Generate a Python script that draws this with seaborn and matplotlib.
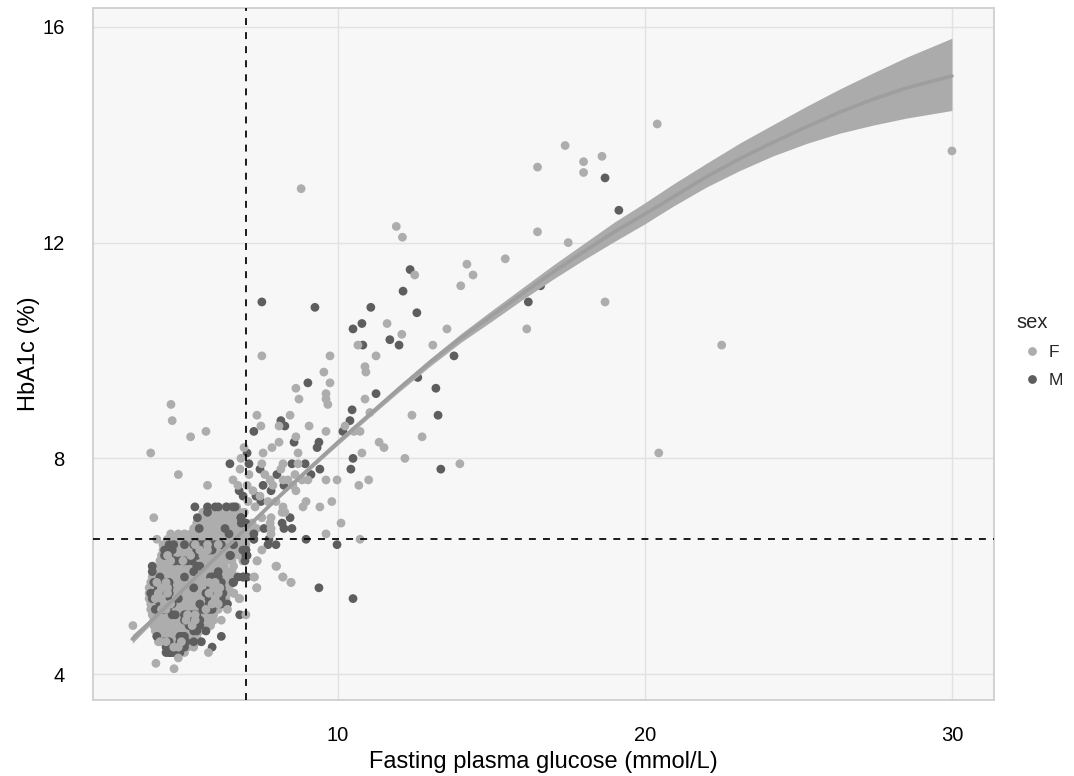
import matplotlib
matplotlib.use("Agg")
import matplotlib.pyplot as plt
import numpy as np
import pandas as pd
import seaborn as sns

# scattered points
far_f_x = [3.32, 4.07, 4.66, 4.56, 4.6, 3.9, 5.2, 5.7, 4.8, 4.0, 5.75, 8.8, 11.9, 12.1, 12.5, 14.2, 14.0, 14.4, 15.45, 16.5,
           17.5, 16.5, 17.4, 18.0, 18.0, 18.6, 20.4, 30.0, 18.7, 16.15, 22.5, 20.45, 11.6, 12.08, 13.55, 13.09, 10.65, 11.24, 9.74, 7.52,
           10.88, 10.91, 9.54, 9.74, 8.63, 9.61, 9.61, 9.67, 8.73, 10.88, 11.04, 8.44, 7.36, 7.49, 8.08, 9.06, 9.61, 10.23, 10.52, 10.72,
           12.41, 12.74, 11.34, 11.5, 12.18, 13.97, 8.63, 8.08, 7.85, 7.56, 8.7, 6.94, 6.84, 10.78, 7.52, 8.21, 8.7, 8.14, 7.62, 7.1,
           6.81, 8.6, 8.37, 8.21, 8.83, 9.02, 9.61, 9.97, 11.0, 10.68, 7.79, 7.88, 8.63, 8.53, 7.23, 7.04, 6.58, 6.74, 7.46, 7.72,
           7.98, 8.96, 8.86, 9.41, 9.8, 8.21, 8.18, 8.27, 7.52, 7.82, 7.79, 7.82, 7.82, 7.3, 7.07, 10.1, 9.61, 10.72, 7.52, 7.36,
           7.98, 8.21, 8.47, 7.26, 7.36, 6.61, 6.78, 4.2, 4.8, 5.78, 6.2, 6.4, 7.0, 6.8, 6.6, 7.28, 7.35, 8.2, 8.47, 8.0, 7.37]
far_f_y = [4.9, 4.2, 4.1, 9.0, 8.7, 8.1, 8.4, 8.5, 7.7, 6.9, 7.5, 13.0, 12.3, 12.1, 11.4, 11.6, 11.2, 11.4, 11.7, 12.2,
           12.0, 13.4, 13.8, 13.5, 13.3, 13.6, 14.2, 13.7, 10.9, 10.4, 10.1, 8.1, 10.5, 10.3, 10.4, 10.1, 10.1, 9.9, 9.9, 9.9,
           9.7, 9.6, 9.6, 9.4, 9.3, 9.2, 9.1, 9.0, 9.1, 9.1, 8.85, 8.8, 8.8, 8.6, 8.6, 8.6, 8.5, 8.6, 8.5, 8.5,
           8.8, 8.4, 8.3, 8.2, 8.0, 7.9, 8.4, 8.3, 8.2, 8.1, 8.1, 8.2, 8.0, 8.1, 7.9, 7.9, 7.9, 7.8, 7.7, 7.7,
           7.8, 7.7, 7.6, 7.6, 7.6, 7.6, 7.6, 7.6, 7.6, 7.5, 7.6, 7.5, 7.4, 7.5, 7.4, 7.5, 7.6, 7.5, 7.3, 7.2,
           7.2, 7.2, 7.1, 7.1, 7.2, 7.1, 7.0, 7.0, 6.9, 6.9, 6.8, 6.7, 6.6, 7.1, 7.2, 6.8, 6.6, 6.5, 6.3, 6.1,
           6.0, 5.8, 5.7, 5.8, 5.6, 5.5, 5.4, 4.6, 4.3, 4.4, 5.0, 5.2, 5.1, 5.4, 5.5, 5.8, 5.6, 5.8, 5.7, 6.0, 6.1]

far_m_x = [12.12, 7.52, 9.25, 11.07, 12.57, 10.78, 10.49, 11.69, 11.99, 10.81, 13.78, 9.02, 12.6, 13.19, 11.24, 10.46, 13.26, 10.39,
           8.14, 8.27, 7.26, 10.16, 8.57, 9.38, 9.32, 7.04, 10.49, 10.42, 13.35, 6.48, 7.1, 8.5, 8.93, 9.41, 9.12, 7.46, 8.01, 7.56,
           8.24, 7.82, 6.78, 6.91, 7.33, 7.49, 6.58, 6.84, 8.44, 8.18, 7.59, 8.24, 8.5, 8.96, 7.26, 7.75, 7.72, 7.98, 9.97,
           7.0, 7.04, 6.48, 6.97, 6.74, 6.91, 7.04, 6.58, 9.38, 10.49, 12.35, 16.6, 16.2, 18.7, 19.15]
far_m_y = [11.1, 10.9, 10.8, 10.8, 10.7, 10.5, 10.4, 10.2, 10.1, 10.1, 9.9, 9.4, 9.5, 9.3, 9.2, 8.9, 8.8, 8.7,
           8.7, 8.6, 8.5, 8.5, 8.3, 8.3, 8.2, 8.1, 8.0, 7.8, 7.8, 7.9, 7.9, 7.9, 7.9, 7.8, 7.7, 7.8, 7.7, 7.5,
           7.5, 7.4, 7.4, 7.3, 7.3, 7.2, 7.1, 6.9, 6.9, 6.8, 6.7, 6.7, 6.7, 6.5, 6.5, 6.5, 6.4, 6.4, 6.4,
           6.3, 6.2, 6.2, 6.1, 5.8, 5.8, 5.8, 5.7, 5.6, 5.4, 11.5, 11.2, 10.9, 13.2, 12.6]

# dense cluster, one x list per HbA1c level
f_71 = [6.35, 6.5, 6.7]
f_70 = [5.6, 5.8, 6.0, 6.15, 6.4, 6.6, 6.8, 6.95]
f_69 = [5.5, 5.7, 5.9, 6.1, 6.3, 6.45, 6.7]
f_68 = [5.4, 5.6, 5.8, 5.95, 6.2, 6.4, 6.6, 6.8, 7.0, 7.2]
f_67 = [5.3, 5.5, 5.7, 5.9, 6.1, 6.3, 6.5, 6.7, 6.9, 7.1, 7.35]
f_66 = [4.55, 4.8, 5.0, 5.2, 5.4, 5.6, 5.8, 6.0, 6.2, 6.4, 6.6, 6.8, 7.0, 7.2]
f_65 = [4.1, 4.45, 4.7, 4.9, 5.15, 5.3, 5.55, 5.75, 5.95, 6.15, 6.35, 6.55, 6.75, 7.0, 7.25]
f_64 = [4.3, 4.55, 4.75, 5.0, 5.2, 5.4, 5.6, 5.85, 6.05, 6.25, 6.5, 6.7, 6.95, 7.0]
f_63 = [4.3, 4.5, 4.7, 4.95, 5.15, 5.35, 5.6, 5.8, 6.0, 6.2, 6.45, 6.65, 6.8]
f_62 = [4.25, 4.5, 4.7, 4.9, 5.1, 5.35, 5.55, 5.75, 6.0, 6.2, 6.4, 6.6, 6.8]
f_61 = [4.2, 4.45, 4.65, 4.85, 5.1, 5.3, 5.5, 5.7, 5.95, 6.15, 6.35, 6.55, 6.9]
f_60 = [3.95, 4.2, 4.4, 4.6, 4.85, 5.05, 5.25, 5.5, 5.7, 5.9, 6.1, 6.3, 6.6]
f_59 = [4.0, 4.25, 4.45, 4.65, 4.9, 5.1, 5.3, 5.55, 5.75, 5.95, 6.15, 6.4, 6.55]
f_58 = [3.95, 4.2, 4.4, 4.6, 4.8, 5.05, 5.25, 5.5, 5.7, 5.9, 6.1, 6.35, 6.6]
f_57 = [3.9, 4.15, 4.35, 4.55, 4.75, 5.0, 5.2, 5.4, 5.65, 5.85, 6.05, 6.3, 6.55]
f_56 = [3.85, 4.1, 4.3, 4.5, 4.75, 4.95, 5.15, 5.4, 5.6, 5.8, 6.0, 6.25, 6.45]
f_55 = [3.85, 4.05, 4.3, 4.5, 4.7, 4.9, 5.15, 5.35, 5.55, 5.8, 6.0, 6.2, 6.4]
f_54 = [3.85, 4.1, 4.3, 4.55, 4.75, 4.95, 5.2, 5.4, 5.6, 5.8, 6.05, 6.35]
f_53 = [3.9, 4.15, 4.35, 4.6, 4.8, 5.0, 5.2, 5.45, 5.65, 5.85, 6.05, 6.25]
f_52 = [3.9, 4.1, 4.35, 4.55, 4.8, 5.0, 5.2, 5.4, 5.65, 5.85, 6.1]
f_51 = [3.95, 4.2, 4.4, 4.6, 4.85, 5.05, 5.3, 5.5, 5.7, 5.9, 5.95]
f_50 = [4.0, 4.25, 4.45, 4.7, 4.9, 5.1, 5.35, 5.55, 5.75, 5.95]
f_49 = [4.0, 4.2, 4.45, 4.65, 4.85, 5.1, 5.3, 5.5, 5.7, 5.85]
f_48 = [4.05, 4.3, 4.5, 4.7, 4.95, 5.15, 5.35, 5.5]
f_47 = [4.1, 4.35, 4.55, 4.8, 5.0, 5.2, 5.4]
f_46 = [4.15, 4.4, 4.6, 4.8, 5.0, 5.2, 5.4]
f_45 = [4.45, 4.7, 4.9, 5.1, 5.3]
f_44 = [4.45, 4.7, 5.0]

m_71 = [5.34, 5.75, 6.0, 6.1, 6.37, 6.65]
m_70 = [5.75]
m_69 = [5.42, 6.84]
m_68 = [6.85, 7.0]
m_67 = [5.48, 6.32]
m_66 = [7.26, 6.45]
m_64 = [4.5, 4.65, 5.0, 5.3, 5.4, 5.5, 5.6, 5.7, 5.8, 5.9, 6.0, 6.2, 6.6]
m_63 = [4.35, 4.4, 4.5, 4.6, 5.4, 5.5, 5.6, 5.7, 5.8, 5.9, 6.9, 7.0]
m_62 = [4.35, 4.5, 5.4, 6.5, 7.0]
m_61 = [4.65, 4.7, 4.85, 5.0, 5.1, 5.25]
m_60 = [3.95, 5.4, 5.5]
m_59 = [3.95, 5.3, 6.1]
m_58 = [4.2, 5.0, 5.85, 5.9, 5.95, 6.05, 6.1, 6.9, 7.0]
m_57 = [4.0, 4.15, 4.2, 4.25, 4.3, 4.35, 4.45, 4.5, 5.85, 5.9, 5.95, 6.05, 6.1, 6.2, 6.6]
m_56 = [4.15, 4.2, 4.25, 4.3, 4.35, 4.4, 4.5, 5.3, 5.85, 5.9, 5.95, 6.0, 6.1, 6.2]
m_55 = [3.9, 4.0, 4.1, 4.2, 4.25, 4.3, 4.35, 4.4, 4.5, 5.7, 5.85, 5.9, 6.0, 6.05, 6.15, 6.25]
m_54 = [3.95, 4.0, 4.1, 4.2, 4.3, 4.4, 4.45, 4.8, 5.8, 5.9, 5.95, 6.1, 6.2]
m_53 = [4.2, 4.25, 4.3, 4.4, 4.5, 4.6, 5.5, 5.8, 5.85, 5.95, 6.05, 6.2, 6.4]
m_52 = [4.05, 4.2, 4.3, 4.35, 4.45, 5.6, 5.8, 5.9]
m_51 = [4.6, 4.7, 5.0, 5.05, 5.2, 5.3, 5.4, 6.8]
m_50 = [5.0, 5.1, 5.2, 5.25, 5.3, 5.4, 5.45, 5.5]
m_49 = [5.15, 5.2, 5.3, 5.4, 5.45, 5.5]
m_48 = [5.3, 5.4, 5.7]
m_47 = [4.1, 4.85, 4.9, 4.95, 5.0, 6.2]
m_46 = [4.35, 4.5, 4.85, 4.95, 5.0, 5.05, 5.3, 5.55]
m_45 = [4.4, 4.5, 4.55, 4.6, 4.7, 5.0, 5.9]
m_44 = [4.4, 4.5, 4.55, 4.6, 4.7, 4.85]

# light points lying over the dark patches of the cluster
top_f_x = [5.35, 5.75, 6.1, 5.5, 5.75, 4.45, 5.2, 5.6, 4.55, 4.95, 4.1, 4.4, 5.8, 6.0, 4.25, 4.45, 5.95, 6.15, 4.15, 4.45,
           5.8, 6.1, 4.25, 4.05, 6.0, 4.35, 4.55, 5.9, 6.1, 4.25, 4.4, 5.7, 5.1, 5.35, 5.05, 5.35, 5.25, 4.4, 4.9, 4.65, 4.8]
top_f_y = [6.4, 6.4, 6.4, 6.3, 6.3, 6.2, 6.2, 6.2, 6.1, 6.1, 5.7, 5.7, 5.7, 5.7, 5.6, 5.6, 5.6, 5.6, 5.5, 5.5,
           5.5, 5.5, 5.4, 5.4, 5.4, 5.3, 5.3, 5.3, 5.3, 5.2, 5.2, 5.2, 5.1, 5.1, 5.0, 5.0, 4.9, 4.6, 4.6, 4.5, 4.5]

# fitted curve and its confidence band
fit_x = [3.3, 4, 5, 6, 7, 8, 9, 10, 11, 12, 13, 14, 15, 16, 17, 18, 19, 20, 20.93, 22, 23.1, 24.18, 25.27, 26.35, 27.44, 28.53, 30]
fit_y = [4.65, 5.03, 5.59, 6.15, 6.7, 7.25, 7.78, 8.3, 8.8, 9.3, 9.78, 10.23, 10.64, 11.05, 11.45, 11.83, 12.2, 12.53, 12.85, 13.22, 13.56, 13.86, 14.15, 14.42, 14.66, 14.87, 15.09]
fit_lo = [4.57, 4.98, 5.56, 6.12, 6.67, 7.22, 7.74, 8.25, 8.75, 9.24, 9.71, 10.15, 10.54, 10.94, 11.32, 11.68, 12.02, 12.35, 12.68, 13.03, 13.34, 13.61, 13.84, 14.03, 14.18, 14.31, 14.45]
fit_hi = [4.73, 5.08, 5.62, 6.18, 6.73, 7.28, 7.82, 8.35, 8.85, 9.36, 9.85, 10.31, 10.74, 11.16, 11.58, 11.98, 12.38, 12.74, 13.09, 13.47, 13.85, 14.19, 14.53, 14.85, 15.15, 15.44, 15.79]

x_ticks = [10, 20, 30]
y_ticks = [4, 8, 12, 16]
cut_x = 7.0
cut_y = 6.5

f_levels = {7.1: f_71, 7.0: f_70, 6.9: f_69, 6.8: f_68, 6.7: f_67, 6.6: f_66, 6.5: f_65, 6.4: f_64, 6.3: f_63,
            6.2: f_62, 6.1: f_61, 6.0: f_60, 5.9: f_59, 5.8: f_58, 5.7: f_57, 5.6: f_56, 5.5: f_55, 5.4: f_54,
            5.3: f_53, 5.2: f_52, 5.1: f_51, 5.0: f_50, 4.9: f_49, 4.8: f_48, 4.7: f_47, 4.6: f_46, 4.5: f_45, 4.4: f_44}
m_levels = {7.1: m_71, 7.0: m_70, 6.9: m_69, 6.8: m_68, 6.7: m_67, 6.6: m_66, 6.4: m_64, 6.3: m_63, 6.2: m_62,
            6.1: m_61, 6.0: m_60, 5.9: m_59, 5.8: m_58, 5.7: m_57, 5.6: m_56, 5.5: m_55, 5.4: m_54, 5.3: m_53,
            5.2: m_52, 5.1: m_51, 5.0: m_50, 4.9: m_49, 4.8: m_48, 4.7: m_47, 4.6: m_46, 4.5: m_45, 4.4: m_44}


def level_frame(levels, sex):
    rows = [(x, y, sex) for y, xs in levels.items() for x in xs]
    return pd.DataFrame(rows, columns=["glucose", "hba1c", "sex"])


frame = pd.concat([
    level_frame(f_levels, "F"),
    pd.DataFrame({"glucose": far_m_x, "hba1c": far_m_y, "sex": "M"}),
    level_frame(m_levels, "M"),
    pd.DataFrame({"glucose": top_f_x, "hba1c": top_f_y, "sex": "F"}),
    pd.DataFrame({"glucose": far_f_x, "hba1c": far_f_y, "sex": "F"}),
], ignore_index=True)

sns.set_theme(style="white")
plt.rcParams["font.family"] = ["Liberation Sans", "DejaVu Sans"]

fig = plt.figure(figsize=(10.74, 7.76), dpi=100)
ax = fig.add_axes([93 / 1074, 1 - 700 / 776, (994 - 93) / 1074, (700 - 8) / 776])
ax.set_facecolor("#F7F7F7")
ax.set_axisbelow(True)
ax.grid(True, color="#E2E2E2", linewidth=1.0)

sns.scatterplot(data=frame, x="glucose", y="hba1c", hue="sex", hue_order=["F", "M"],
                palette={"F": "#ADADAD", "M": "#5E5E5E"}, s=40, linewidth=0, ax=ax, zorder=2)

ax.fill_between(fit_x, fit_lo, fit_hi, color="#ABABAB", linewidth=0, zorder=3)
sns.lineplot(x=fit_x, y=fit_y, color="#9E9E9E", linewidth=2.6, ax=ax, zorder=4, legend=False)

ax.axvline(cut_x, color="black", linewidth=1.25, linestyle=(0, (4.0, 4.1)), zorder=5)
ax.axhline(cut_y, color="black", linewidth=1.25, linestyle=(0, (4.0, 4.1)), zorder=5)

ax.set_xlim(2.02, 31.37)
ax.set_ylim(3.52, 16.35)
ax.set_xticks(x_ticks)
ax.set_yticks(y_ticks)
ax.tick_params(axis="both", length=0, labelsize=14.5, labelcolor="black")
ax.tick_params(axis="x", pad=19)
ax.tick_params(axis="y", pad=20.5)
ax.set_xlabel("Fasting plasma glucose (mmol/L)", fontsize=17, color="black")
ax.set_ylabel("HbA1c (%)", fontsize=17, color="black")
ax.xaxis.set_label_coords(0.5, -0.0737)
ax.yaxis.set_label_coords(-0.0589, 0.5)
for spine in ax.spines.values():
    spine.set_visible(True)
    spine.set_color("#D2D2D2")
    spine.set_linewidth(1.4)

sns.move_legend(ax, "upper left", bbox_to_anchor=(1.015, 0.572), frameon=False, title="sex",
                fontsize=12.5, title_fontsize=14.5, labelspacing=0.75, handletextpad=0.05, handlelength=1.8, borderpad=0)
ax.get_legend()._legend_box.align = "left"

fig.savefig("out.png", dpi=100)
